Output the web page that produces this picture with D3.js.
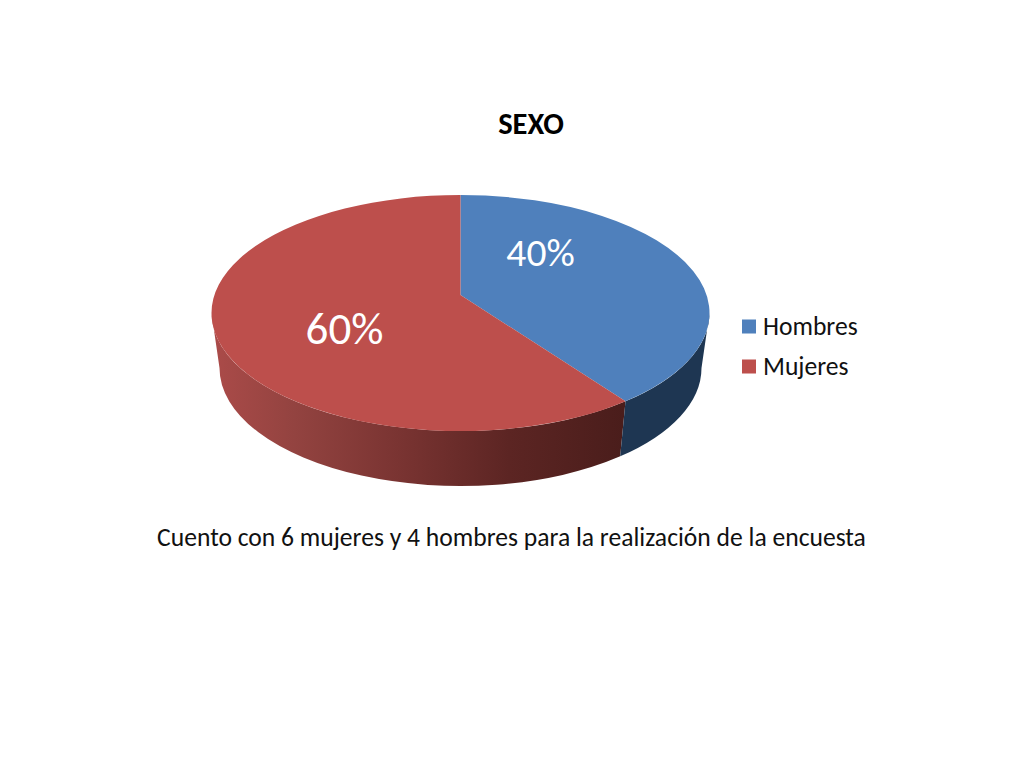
<!DOCTYPE html>
<html>
<head>
<meta charset="utf-8">
<script src="https://cdn.jsdelivr.net/npm/d3@7"></script>
<style>
  html, body { margin: 0; background: #fff; }
  text { font-family: Carlito, "Open Sans", "Noto Sans", sans-serif; }
</style>
</head>
<body>
<svg id="chart" width="1024" height="768"></svg>
<script>
const categories = ['Hombres', 'Mujeres'];
const values = [4, 6];
const labels = ['40%', '60%'];
const topColors = ['#4f80bc', '#bd4f4c'];
const title = 'SEXO';
const caption = 'Cuento con 6 mujeres y 4 hombres para la realización de la encuesta';

const svg = d3.select('#chart');
const top3d = { cx: 460.5, cy: 313, rx: 249, ry: 118 };
const base3d = { cx: 460.5, cy: 368, rx: 241, ry: 118 };
const apexY = 295;

const pie = d3.pie().sort(null).value(d => d);
const arcs = pie(values);

// perspective: the pie centre sits above the ellipse centre, so slice angles
// go through a projective map of the disc before they reach the ellipse
const k = (apexY - top3d.cy) / top3d.ry;
const project = a => {
  const u = Math.sin(a), v = -Math.cos(a);
  const w = 1 + k * v;
  return [u * Math.sqrt(1 - k * k) / w, (v + k) / w];
};
const pt = (e, a) => {
  const [u, v] = project(a);
  return [e.cx + e.rx * u, e.cy + e.ry * v];
};

const topPath = d => {
  const [x0, y0] = pt(top3d, d.startAngle);
  const [x1, y1] = pt(top3d, d.endAngle);
  const large = d.endAngle - d.startAngle > Math.PI ? 1 : 0;
  return `M${top3d.cx},${apexY}L${x0},${y0}A${top3d.rx},${top3d.ry} 0 ${large} 1 ${x1},${y1}Z`;
};
// wall between two screen positions on the rim, given as [u, v] on the ellipse
const onEllipse = (e, [u, v]) => [e.cx + e.rx * u, e.cy + e.ry * v];
const wallPath = (p0, p1) => {
  const [x0, y0] = onEllipse(top3d, p0);
  const [x1, y1] = onEllipse(top3d, p1);
  const [x2, y2] = onEllipse(base3d, p1);
  const [x3, y3] = onEllipse(base3d, p0);
  return `M${x0},${y0}A${top3d.rx},${top3d.ry} 0 0 1 ${x1},${y1}L${x2},${y2}A${base3d.rx},${base3d.ry} 0 0 0 ${x3},${y3}Z`;
};

const defs = svg.append('defs');
const redGrad = defs.append('linearGradient')
  .attr('id', 'wall-red')
  .attr('gradientUnits', 'userSpaceOnUse')
  .attr('x1', 212).attr('x2', 625).attr('y1', 0).attr('y2', 0);
[[0, '#ab4b49'], [0.2, '#934340'], [0.45, '#7a3432'], [0.72, '#5c2523'], [1, '#4a1d1b']].forEach(([o, c]) =>
  redGrad.append('stop').attr('offset', o).attr('stop-color', c));

// side walls first, the top faces go over them
const split = project(arcs[0].endAngle);
svg.append('path')
  .attr('d', wallPath(split, [-1, 0]))
  .attr('fill', 'url(#wall-red)');
svg.append('path')
  .attr('d', wallPath([1, 0], split))
  .attr('fill', '#1e3652');

svg.selectAll('path.top')
  .data(arcs)
  .join('path')
  .attr('class', 'top')
  .attr('d', topPath)
  .attr('fill', (d, i) => topColors[i]);

svg.append('text')
  .attr('x', 531).attr('y', 134)
  .attr('text-anchor', 'middle')
  .attr('font-size', 30.5).attr('font-weight', 'bold')
  .attr('fill', '#000')
  .text(title);

const labelPos = [[540.5, 266], [344.5, 344]];
svg.selectAll('text.pct')
  .data(labels)
  .join('text')
  .attr('class', 'pct')
  .attr('x', (d, i) => labelPos[i][0])
  .attr('y', (d, i) => labelPos[i][1])
  .attr('text-anchor', 'middle')
  .attr('font-size', (d, i) => i === 0 ? 39.5 : 45)
  .attr('fill', '#fff')
  .text(d => d);

const legendY = d3.scalePoint().domain(categories).range([326, 366]);
const legend = svg.selectAll('g.legend')
  .data(categories)
  .join('g')
  .attr('class', 'legend')
  .attr('transform', d => `translate(742, ${legendY(d)})`);
legend.append('rect')
  .attr('y', -6.5).attr('width', 14).attr('height', 14)
  .attr('fill', (d, i) => topColors[i]);
legend.append('text')
  .attr('x', 21).attr('y', 9)
  .attr('font-size', 25.6).attr('fill', '#111')
  .text(d => d);

svg.append('text')
  .attr('x', 511.5).attr('y', 546)
  .attr('text-anchor', 'middle')
  .attr('font-size', 25.6).attr('fill', '#111')
  .text(caption);
</script>
</body>
</html>
